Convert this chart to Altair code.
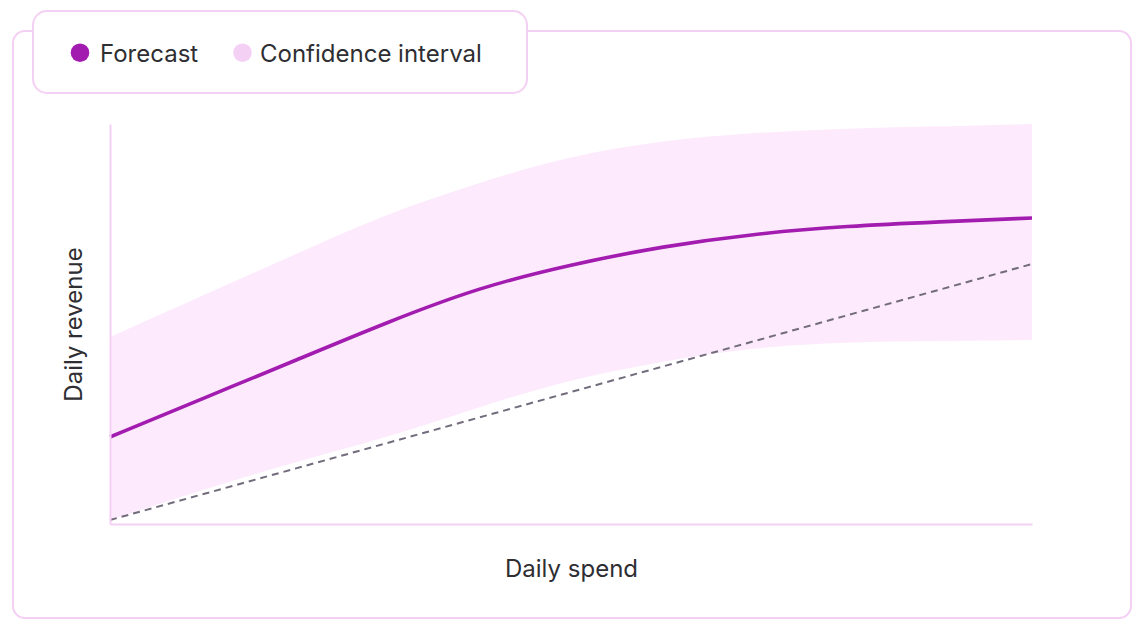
import altair as alt
import pandas as pd

# ---- data ----
spend = [0, 10, 20, 30, 40, 50, 60, 70, 80, 90, 100]
forecast = [21.75, 31.3, 40.8, 50.4, 59.15, 64.9, 69.45, 72.6, 74.5, 75.55, 76.5]
upper = [46.75, 57.05, 67.35, 77.6, 85.4, 92.1, 95.9, 97.9, 98.9, 99.4, 100.0]
lower = [1.0, 8.5, 15.5, 21.5, 29.25, 36.25, 40.75, 44.25, 45.5, 45.75, 46.0]
ref_spend = [0, 100]
ref_revenue = [1.0, 65.0]
legend_labels = ["Forecast", "Confidence interval"]
legend_colors = ["#a21caf", "#f5d0f5"]

PINK = "#f5d0f5"
FONT = "Inter"
TEXT = "#2e2e33"

df = pd.DataFrame({"spend": spend, "forecast": forecast, "upper": upper, "lower": lower})
ref = pd.DataFrame({"spend": ref_spend, "revenue": ref_revenue})
one = alt.Data(values=[{}])

xscale = alt.Scale(domain=[0, 100], nice=False, zero=False)
yscale = alt.Scale(domain=[0, 100], nice=False, zero=False)

x_axis = alt.Axis(labels=False, ticks=False, grid=False, domainColor=PINK, domainWidth=2, zindex=1,
                  title="Daily spend", titleFont=FONT, titleFontSize=24, titleFontWeight="normal",
                  titleColor=TEXT, titlePadding=33)
y_axis = alt.Axis(labels=False, ticks=False, grid=False, domainColor=PINK, domainWidth=2, zindex=1,
                  title="Daily revenue", titleFont=FONT, titleFontSize=24, titleFontWeight="normal",
                  titleColor=TEXT, titlePadding=24)

outer = alt.Chart(one).mark_rect(fill="white", stroke=PINK, strokeWidth=2, cornerRadius=12).encode(
    x=alt.value(-97), x2=alt.value(1021), y=alt.value(-93), y2=alt.value(494))

band = alt.Chart(df).mark_area(color="#fdebfd", interpolate="basis").encode(
    x=alt.X("spend:Q", scale=xscale, axis=x_axis),
    y=alt.Y("lower:Q", scale=yscale, axis=y_axis),
    y2="upper:Q")

refline = alt.Chart(ref).mark_line(color="#726c7c", strokeWidth=2, strokeDash=[7, 5]).encode(
    x=alt.X("spend:Q", scale=xscale), y=alt.Y("revenue:Q", scale=yscale))

line = alt.Chart(df).mark_line(color=legend_colors[0], strokeWidth=3.6, interpolate="basis").encode(
    x=alt.X("spend:Q", scale=xscale), y=alt.Y("forecast:Q", scale=yscale))

legend_box = alt.Chart(one).mark_rect(fill="white", stroke=PINK, strokeWidth=2, cornerRadius=14).encode(
    x=alt.value(-77), x2=alt.value(417), y=alt.value(-113), y2=alt.value(-31))

dot_x = [-30, 132.5]
text_x = [-10, 150]
legend_layers = []
for lab, col, dx, tx in zip(legend_labels, legend_colors, dot_x, text_x):
    legend_layers.append(alt.Chart(one).mark_circle(color=col, opacity=1, size=346).encode(
        x=alt.value(dx), y=alt.value(-71.3)))
    legend_layers.append(alt.Chart(one).mark_text(text=lab, font=FONT, fontSize=24, color=TEXT,
                                                  align="left", baseline="alphabetic").encode(
        x=alt.value(tx), y=alt.value(-62)))

chart = alt.layer(outer, band, refline, line, legend_box, *legend_layers).properties(
    width=922, height=400,
    autosize=alt.AutoSizeParams(type="none"),
    padding={"left": 102, "top": 116, "right": 104, "bottom": 104},
    background="white",
).configure_view(stroke=None)

chart.save("out.html", embed_options={"renderer": "svg", "actions": False})
